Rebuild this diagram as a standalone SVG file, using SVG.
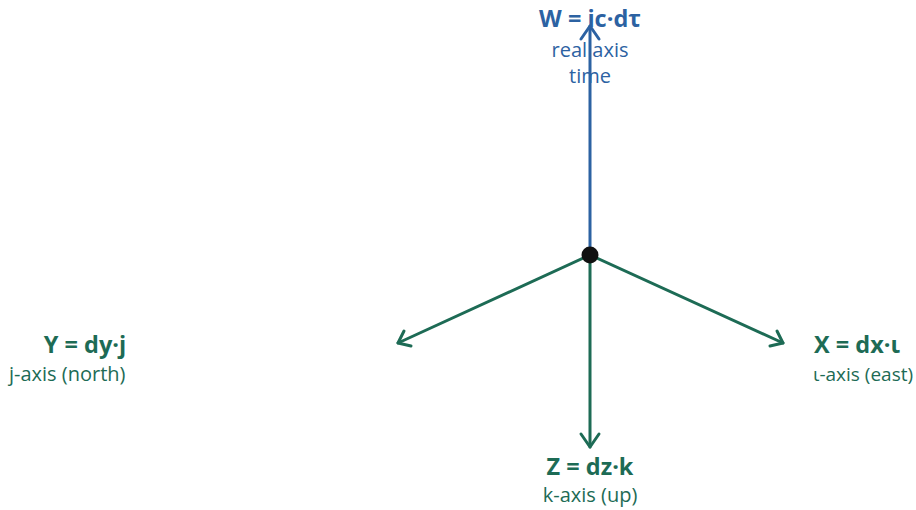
<svg xmlns="http://www.w3.org/2000/svg" width="916" height="510" viewBox="0 0 916 510">
<style>
.lbl{font-family:"Open Sans","Noto Sans","Liberation Sans",sans-serif;font-weight:bold;font-size:23.5px}
.sub{font-family:"Open Sans","Noto Sans","Liberation Sans",sans-serif;font-size:20px}
.blue{fill:#2c62a2}
.green{fill:#1d6b55}
.axb{stroke:#2c62a2;stroke-width:3;fill:none;stroke-linecap:round;stroke-linejoin:round}
.axg{stroke:#1d6b55;stroke-width:3;fill:none;stroke-linecap:round;stroke-linejoin:round}
</style>
<rect width="916" height="510" fill="#ffffff"/>
<g id="connectors">
<line class="axb" x1="590" y1="255" x2="590" y2="26"/>
<polyline class="axb" points="581,39 590,26 599,39"/>
<line class="axg" x1="590" y1="255" x2="398" y2="343"/>
<polyline class="axg" points="404,331 398,343 411,346"/>
<line class="axg" x1="590" y1="255" x2="783" y2="343"/>
<polyline class="axg" points="770,346 783,343 777,331"/>
<line class="axg" x1="590" y1="255" x2="590" y2="447"/>
<polyline class="axg" points="581,434 590,447 599,434"/>
</g>
<g id="origin"><circle cx="590" cy="255" r="8.5" fill="#111"/></g>
<g id="W">
<text class="lbl blue" x="590" y="27" text-anchor="middle">W = ic·dτ</text>
<text class="sub blue" x="590" y="57" text-anchor="middle">real axis</text>
<text class="sub blue" x="590" y="83" text-anchor="middle">time</text>
</g>
<g id="Y">
<text class="lbl green" x="85" y="353" text-anchor="middle">Y = dy·j</text>
<text class="sub green" x="9" y="381">j-axis (north)</text>
</g>
<g id="X">
<text class="lbl green" x="814" y="353">X = dx·ι</text>
<text class="sub green" x="813" y="381" style="font-size:19px">ι-axis (east)</text>
</g>
<g id="Z">
<text class="lbl green" x="590" y="475" text-anchor="middle">Z = dz·k</text>
<text class="sub green" x="590" y="502" text-anchor="middle">k-axis (up)</text>
</g>
</svg>
